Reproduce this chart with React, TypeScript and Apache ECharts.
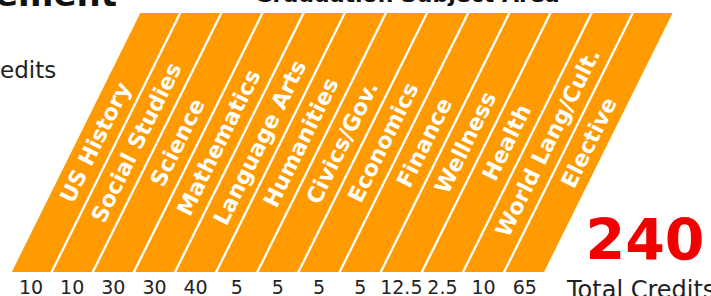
import React, { useEffect, useRef } from "react";
import * as echarts from "echarts";

const subjects = [
  "US History",
  "Social Studies",
  "Science",
  "Mathematics",
  "Language Arts",
  "Humanities",
  "Civics/Gov.",
  "Economics",
  "Finance",
  "Wellness",
  "Health",
  "World Lang/Cult.",
  "Elective",
];
const credits = [10, 10, 30, 30, 40, 5, 5, 5, 5, 12.5, 2.5, 10, 65];
const totalCredits = 240;
const axisTitle = "Graduation Subject Area";
const totalLabel = "Total Credits";

const FONT = "'DejaVu Sans'";
const ORANGE = "#ff9a00";
const ANGLE = (63.6 * Math.PI) / 180;
const GAP = 2.6;

export default function App() {
  const ref = useRef<HTMLDivElement>(null);
  useEffect(() => {
    document.body.style.margin = "0";
    if (!ref.current) return;
    const chart = echarts.init(ref.current, null, { renderer: "svg" });
    chart.setOption({
      animation: false,
      grid: { left: 10.5, width: 534.8, top: 13, height: 262 },
      xAxis: {
        type: "category",
        data: subjects,
        axisLine: { show: false },
        axisTick: { show: false },
        axisLabel: {
          interval: 0,
          margin: 5,
          fontFamily: "DejaVu Sans",
          fontSize: 19,
          color: "#222222",
          formatter: (_v: string, i: number) => String(credits[i]),
        },
      },
      yAxis: { type: "value", show: false, min: 0, max: 70 },
      series: [
        {
          type: "custom",
          clip: false,
          data: credits.map((c, i) => [i, c]),
          encode: { x: 0, y: 1 },
          renderItem: (params: any, api: any) => {
            const i = api.value(0);
            const base = api.coord([i, 0]);
            const band = api.size([1, 0])[0];
            const cs = params.coordSys;
            const yB = cs.y + cs.height;
            const yT = cs.y;
            const h = yB - yT;
            const skew = h / Math.tan(ANGLE);
            const x0 = base[0] - band / 2 + GAP / 2;
            const x1 = base[0] + band / 2 - GAP / 2;
            return {
              type: "group",
              children: [
                {
                  type: "polygon",
                  shape: {
                    points: [
                      [x0, yB],
                      [x1, yB],
                      [x1 + skew, yT],
                      [x0 + skew, yT],
                    ],
                  },
                  style: { fill: ORANGE },
                },
                {
                  type: "text",
                  x: base[0] + skew / 2,
                  y: yT + h / 2,
                  rotation: ANGLE,
                  style: {
                    text: subjects[i],
                    fill: "#ffffff",
                    font: `bold 22px ${FONT}`,
                    align: "center",
                    verticalAlign: "middle",
                  },
                },
              ],
            };
          },
        },
      ],
      graphic: [
        {
          type: "text",
          x: 117,
          y: -6,
          style: {
            text: "ement",
            fill: "#111111",
            font: `bold 34px ${FONT}`,
            align: "right",
            verticalAlign: "middle",
          },
        },
        {
          type: "text",
          x: 407,
          y: -6,
          style: {
            text: axisTitle,
            fill: "#111111",
            font: `bold 22px ${FONT}`,
            align: "center",
            verticalAlign: "middle",
          },
        },
        {
          type: "text",
          x: 0,
          y: 70,
          style: {
            text: "edits",
            fill: "#222222",
            font: `23px ${FONT}`,
            align: "left",
            verticalAlign: "middle",
          },
        },
        {
          type: "text",
          x: 645,
          y: 239.5,
          style: {
            text: String(totalCredits),
            fill: "#f20000",
            font: `bold 57px ${FONT}`,
            align: "center",
            verticalAlign: "middle",
          },
        },
        {
          type: "text",
          x: 567,
          y: 290,
          style: {
            text: totalLabel,
            fill: "#222222",
            font: `24px ${FONT}`,
            align: "left",
            verticalAlign: "middle",
          },
        },
      ],
    });
    return () => chart.dispose();
  }, []);
  return <div ref={ref} style={{ width: 711, height: 296 }} />;
}
